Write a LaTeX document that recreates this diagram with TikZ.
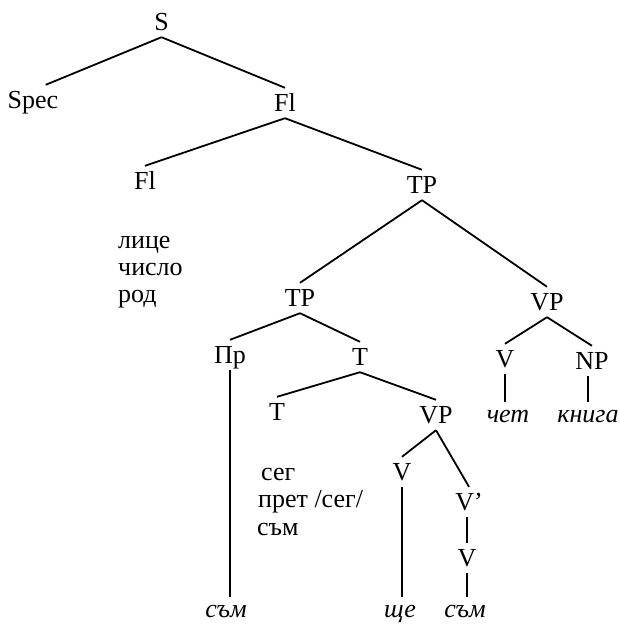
\documentclass[tikz,border=0pt]{standalone}
\usepackage{fontspec}
\setmainfont{Liberation Serif}
\begin{document}
\begin{tikzpicture}[x=1pt,y=-1pt,
  cat/.style={inner sep=0pt,minimum height=30pt,text height=17pt,text depth=0pt,font=\fontsize{26}{30}\selectfont},
  word/.style={inner sep=0pt,minimum height=30pt,text height=11pt,text depth=0pt,font=\fontsize{26}{30}\selectfont\itshape},
  feat/.style={inner sep=0pt,anchor=base west,font=\fontsize{26}{30}\selectfont},
  edge/.style={line width=1.8pt}]
\useasboundingbox (0,0) rectangle (620,626);
% category nodes
\node[cat] (S) at (161.5,22) {S};
\node[cat] (Spec) at (33,100) {Spec};
\node[cat] (Fl1) at (285,103) {Fl};
\node[cat] (Fl2) at (145,181) {Fl};
\node[cat] (TP1) at (422,185) {TP};
\node[cat] (TP2) at (300,298) {TP};
\node[cat] (VP1) at (547,302) {VP};
\node[cat] (Pr) at (230,355) {Пр};
\node[cat] (T1) at (360,357) {T};
\node[cat] (V1) at (505,359) {V};
\node[cat] (NP) at (592,361) {NP};
\node[cat] (T2) at (277,412) {T};
\node[cat] (VP2) at (436,415) {VP};
\node[cat] (V2) at (402,472) {V};
\node[cat] (Vb) at (469,502) {V’};
\node[cat] (V3) at (467,558) {V};
% words
\node[word] (chet) at (508,417) {чет};
\node[word] (kniga) at (588,417) {книга};
\node[word] (sam1) at (226,612) {съм};
\node[word] (shte) at (400,612) {ще};
\node[word] (sam2) at (465,612) {съм};
% feature lists
\node[feat] (f1) at (118,248) {лице};
\node[feat] (f2) at (118,275) {число};
\node[feat] (f3) at (118,302) {род};
\node[feat] (g1) at (261,480) {сег};
\node[feat] (g2) at (258,507) {прет /сег/};
\node[feat] (g3) at (257,535) {съм};
% edges
\draw[edge] (S.south) -- (Spec.50);
\draw[edge] (S.south) -- (Fl1.north);
\draw[edge] (Fl1.south) -- (Fl2.north);
\draw[edge] (Fl1.south) -- (TP1.north);
\draw[edge] (TP1.south) -- (TP2.north);
\draw[edge] (TP1.south) -- (VP1.north);
\draw[edge] (TP2.south) -- (Pr.north);
\draw[edge] (TP2.south) -- (T1.north);
\draw[edge] (VP1.south) -- (V1.north);
\draw[edge] (VP1.south) -- (NP.north);
\draw[edge] (T1.south) -- (T2.north);
\draw[edge] (T1.south) -- (VP2.north);
\draw[edge] (VP2.south) -- (V2.north);
\draw[edge] (VP2.south) -- (Vb.north);
\draw[edge] (V3.north |- Vb.south) -- (V3.north);
\draw[edge] (V1.south) -- (V1.south |- chet.north);
\draw[edge] (kniga.north |- NP.south) -- (kniga.north);
\draw[edge] (Pr.south) -- (Pr.south |- sam1.north);
\draw[edge] (V2.south) -- (V2.south |- shte.north);
\draw[edge] (V3.south) -- (V3.south |- sam2.north);
\end{tikzpicture}
\end{document}
